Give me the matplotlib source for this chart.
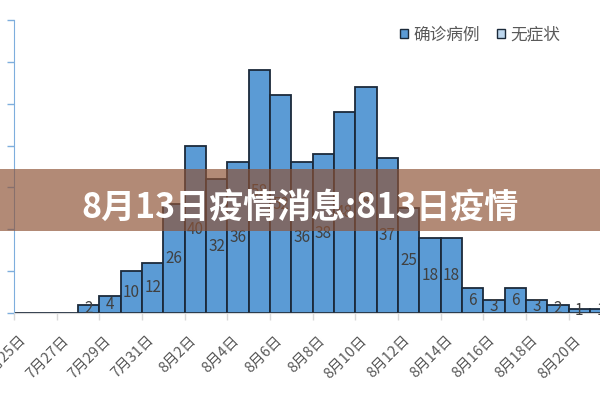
import matplotlib
matplotlib.use("Agg")
import matplotlib.pyplot as plt
import matplotlib.transforms as mtransforms
from matplotlib.patches import Patch, Rectangle

plt.rcParams['font.family'] = ['Noto Sans CJK SC', 'DejaVu Sans']

# dates 7/25 .. 8/21
dates = ['7月25日', '7月26日', '7月27日', '7月28日', '7月29日', '7月30日', '7月31日',
         '8月1日', '8月2日', '8月3日', '8月4日', '8月5日', '8月6日', '8月7日',
         '8月8日', '8月9日', '8月10日', '8月11日', '8月12日', '8月13日', '8月14日',
         '8月15日', '8月16日', '8月17日', '8月18日', '8月19日', '8月20日', '8月21日']
confirmed = [0, 0, 0, 2, 4, 10, 12, 26, 40, 32, 36, 58, 52, 36, 38, 48, 54, 37,
             25, 18, 18, 6, 3, 6, 3, 2, 1, 1]
series_names = ['确诊病例', '无症状']
title_text = '8月13日疫情消息:813日疫情'

blue = '#5B9BD5'
light = '#BDD7EE'
edge = '#1B2A3A'

fig = plt.figure(figsize=(6, 4), dpi=100)
ax = fig.add_axes([14 / 600, 1 - 313 / 400, 28.5 * 21.33 / 600, 293 / 400])

x = list(range(len(dates)))
ax.bar(x, confirmed, width=1, align='edge', color=blue, edgecolor=edge, linewidth=1.3)

for i, v in enumerate(confirmed):
    if v > 0:
        ax.text(i + 0.5, v / 2, str(v), ha='center', va='center',
                fontsize=11, color='#404040')

ax.set_xlim(0, 28.5)
ax.set_ylim(0, 70)
ax.set_yticks(range(0, 71, 10))
ax.set_yticklabels([])
ax.set_xticks(x[0:27:2])
ax.set_xticklabels(dates[0:27:2], rotation=45, ha='right', va='center',
                   rotation_mode='anchor', fontsize=10.5, color='#595959')

for sp in ['top', 'right']:
    ax.spines[sp].set_visible(False)
ax.spines['left'].set_color('#7EAEDD')
ax.spines['bottom'].set_color('#D9D9D9')
ax.tick_params(axis='y', colors='#7EAEDD', length=5, width=1)
ax.tick_params(axis='x', colors='#D9D9D9', length=5, width=1, pad=13, labelcolor='#595959')

off = mtransforms.ScaledTranslation(7 / 72, 0, fig.dpi_scale_trans)
for lab in ax.get_xticklabels():
    lab.set_transform(lab.get_transform() + off)

handles = [Patch(facecolor=blue, edgecolor='#1B2A3A', linewidth=1),
           Patch(facecolor=light, edgecolor='#1B2A3A', linewidth=1)]
fig.legend(handles, series_names, loc='center', bbox_to_anchor=(480 / 600, 1 - 35 / 400),
           ncol=2, frameon=False, fontsize=12, handlelength=0.5, handleheight=0.5,
           handletextpad=0.3, columnspacing=1.0, labelcolor='#595959')

# banner overlay
fig.patches.append(Rectangle((0, 1 - 231 / 400), 1, 62 / 400, transform=fig.transFigure,
                             facecolor=(142 / 255, 83 / 255, 54 / 255), alpha=0.68,
                             edgecolor='none', zorder=5))
fig.text(0.5, 1 - 207.5 / 400, title_text, ha='center', va='center', color='white',
         fontsize=24.5, fontweight='bold', zorder=6)

fig.savefig('out.png', dpi=100)
